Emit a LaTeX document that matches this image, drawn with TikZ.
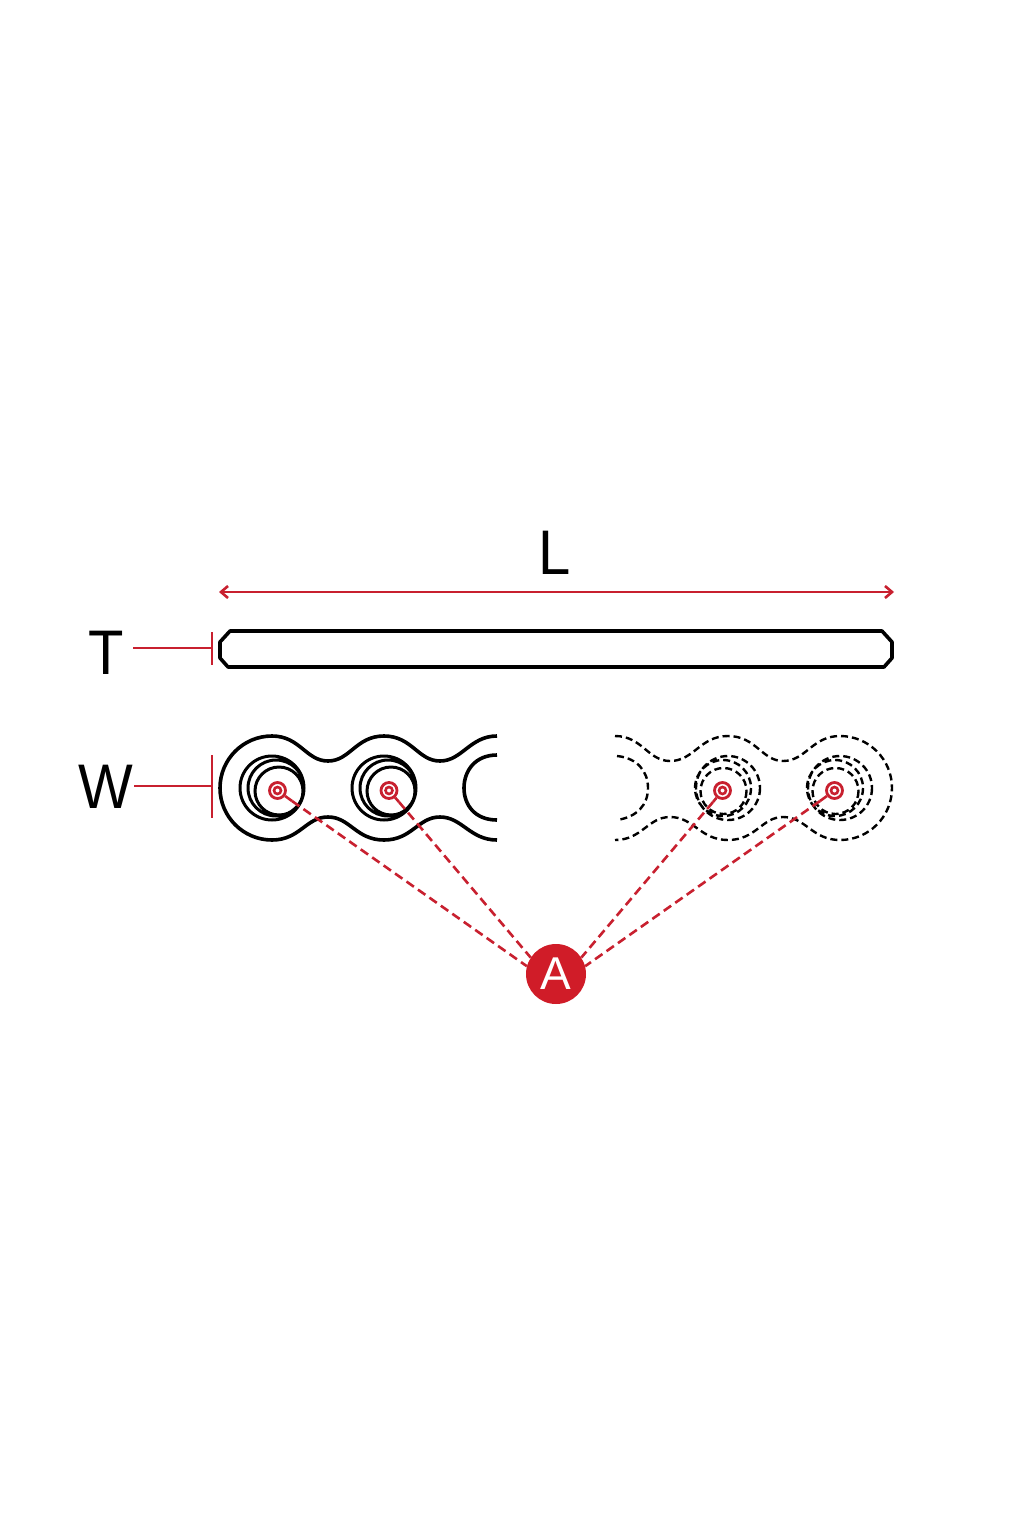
\documentclass[tikz,border=0pt]{standalone}
\usepackage{fontspec}
\setmainfont{Liberation Sans}
\usepackage{xcolor}
\usetikzlibrary{arrows.meta}
\definecolor{dimred}{HTML}{C8202F}
\definecolor{badgered}{HTML}{D01C28}
\begin{document}
\begin{tikzpicture}[x=1pt,y=-1pt,solidline/.style={black,line width=3.6pt},hiddenline/.style={black,line width=2.4pt,dash pattern=on 7pt off 4pt},redline/.style={dimred,line width=2.6pt},reddash/.style={dimred,line width=2.6pt,dash pattern=on 9pt off 5pt},ring/.style={circle,draw=dimred,line width=2.8pt,minimum size=16pt,inner sep=0pt},dimtext/.style={font=\fontsize{63}{63}\selectfont,inner ysep=0pt,text height=45pt,text depth=0pt,xscale=.92,transform shape}]
\useasboundingbox[fill=white] (0,0) rectangle (1024,1536);
% plate seen from the side
\draw[solidline,line join=round] (220,642) -- (230,631) -- (882,631) -- (892,642) -- (892,658) -- (884,667) -- (228,667) -- (220,658) -- cycle;
% left end of the plate
\draw[solidline] (497,736) .. controls (470,736) and (462,761) .. (440,761) .. controls (418,761) and (412,736) .. (384,736) .. controls (356,736) and (350,761) .. (328,761) .. controls (306,761) and (300,736) .. (272,736) arc[start angle=-90,end angle=-270,radius=52] .. controls (300,840) and (306,817) .. (328,817) .. controls (350,817) and (356,840) .. (384,840) .. controls (412,840) and (418,817) .. (440,817) .. controls (462,817) and (470,840) .. (497,840);
\draw[solidline] (497,755) .. controls (475,755) and (464,771) .. (464,788) .. controls (464,805) and (475,820) .. (497,820);
\foreach \x in {0,112} {
   \draw[solidline,line width=3pt,xshift=\x pt] (272,788) circle[radius=32] (276,788) circle[radius=28] (279,791) circle[radius=24];
}
% right end of the plate
\draw[hiddenline] (615,736) .. controls (642,736) and (648,761) .. (670,761) .. controls (694,761) and (700,736) .. (728,736) .. controls (756,736) and (762,761) .. (783,761) .. controls (806,761) and (812,736) .. (840,736) arc[start angle=-90,end angle=90,radius=52] .. controls (812,840) and (806,817) .. (783,817) .. controls (762,817) and (756,840) .. (728,840) .. controls (700,840) and (694,817) .. (670,817) .. controls (648,817) and (642,840) .. (615,840);
\draw[hiddenline] (617,756) .. controls (637,758) and (648,771) .. (648,788) .. controls (648,805) and (637,817) .. (617,820);
\foreach \x in {0,-112} {
   \draw[hiddenline,xshift=\x pt] (840,788) circle[radius=32] (835,788) circle[radius=28] (835.5,791) circle[radius=23];
}
% labels and dimension lines
\node[dimtext] (Llabel) at (555,551.5) {L};
\node[dimtext,inner xsep=10pt] (Tlabel) at (106,652) {T};
\node[dimtext,inner xsep=1pt] (Wlabel) at (106,786) {W};
\coordinate (Lleft) at (219,592);
\coordinate (Lright) at (894,592);
\draw[redline,{Straight Barb[length=7pt,width=12pt]}-{Straight Barb[length=7pt,width=12pt]}] (Lleft) -- (Lright);
\coordinate (Ttick) at (212,648);
\coordinate (Ttop) at (212,632);
\coordinate (Tbot) at (212,665);
\draw[redline] (Tlabel.east |- Ttick) -- (Ttick);
\draw[redline] (Ttop) -- (Tbot);
\coordinate (Wtick) at (212,786);
\coordinate (Wtop) at (212,755);
\coordinate (Wbot) at (212,818);
\draw[redline] (Wlabel.east |- Wtick) -- (Wtick);
\draw[redline] (Wtop) -- (Wbot);
% callout to the holes
\node[circle,fill=badgered,text=white,minimum size=60pt,inner sep=0pt,font=\fontsize{46}{46}\selectfont] (A) at (556,974) {A};
\foreach \name/\x/\sx/\sy/\ang in {holea/277.5/292/801/165,holeb/389/399/802/147,holec/722.5/713/802/33,holed/834.5/820/801/15} {
   \node[ring] (\name) at (\x,790.5) {};
   \draw[redline] (\x,790.5) circle[radius=3.5];
   \coordinate (\name s) at (\sx,\sy);
   \draw[redline] (\name) -- (\name s);
   \draw[reddash] (\name s) -- (A.\ang);
}
\end{tikzpicture}
\end{document}
